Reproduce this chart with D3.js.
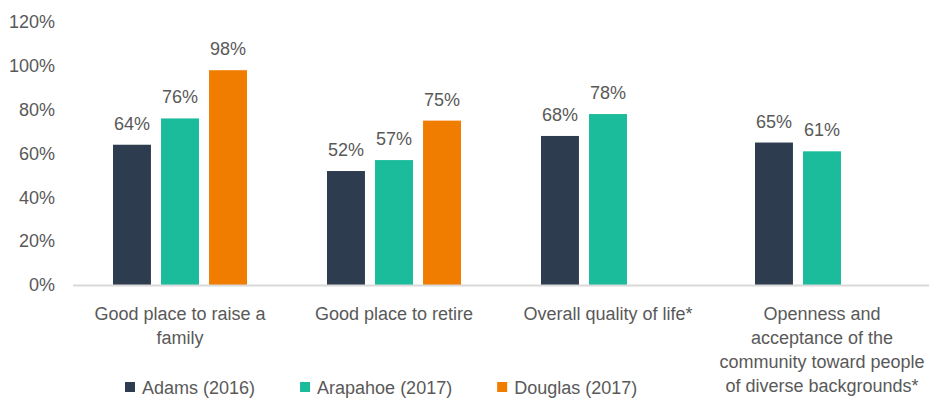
<!DOCTYPE html>
<html>
<head>
<meta charset="utf-8">
<script src="https://cdn.jsdelivr.net/npm/d3@7"></script>
<style>
  body { margin: 0; background: #fff; }
  svg text { fill: #595959; font-family: "Liberation Sans", Arial, sans-serif; }
</style>
</head>
<body>
<div id="chart"></div>
<script>
// --- data ---
const categories = [
  ["Good place to raise a", "family"],
  ["Good place to retire"],
  ["Overall quality of life*"],
  ["Openness and", "acceptance of the", "community toward people", "of diverse backgrounds*"]
];
const seriesNames = ["Adams (2016)", "Arapahoe (2017)", "Douglas (2017)"];
const seriesColors = ["#2e3c50", "#1abc9c", "#f07c00"];
const adams = [0.64, 0.52, 0.68, 0.65];
const arapahoe = [0.76, 0.57, 0.78, 0.61];
const douglas = [0.98, 0.75, null, null];
const yTicks = [0, 0.2, 0.4, 0.6, 0.8, 1.0, 1.2];

const width = 946, height = 400;
const plotLeft = 73, plotRight = 929, plotTop = 22, plotBottom = 285;

const svg = d3.select("#chart").append("svg").attr("width", width).attr("height", height);

const seriesValues = [adams, arapahoe, douglas];
const x0 = d3.scaleBand().domain(d3.range(categories.length)).range([plotLeft, plotRight]);
const x1 = d3.scaleBand().domain(d3.range(seriesNames.length)).range([40, x0.bandwidth() - 40]).paddingInner(0.21);
const y = d3.scaleLinear().domain([0, 1.2]).range([plotBottom, plotTop]);
const pct = d3.format(".0%");

// y tick labels (no axis line)
svg.append("g").selectAll("text").data(yTicks).join("text")
  .attr("x", 55).attr("y", d => y(d)).attr("dy", "0.35em")
  .attr("text-anchor", "end")
  .style("font-size", "18px")
  .text(d => pct(d));

// bars
const flat = [];
categories.forEach((c, i) => seriesValues.forEach((vals, s) => {
  if (vals[i] != null) flat.push({ cat: i, s: s, v: vals[i] });
}));

const groups = svg.append("g");
groups.selectAll("rect").data(flat).join("rect")
  .attr("x", d => x0(d.cat) + x1(d.s))
  .attr("y", d => y(d.v))
  .attr("width", x1.bandwidth())
  .attr("height", d => plotBottom - y(d.v))
  .attr("fill", d => seriesColors[d.s]);

groups.selectAll("text").data(flat).join("text")
  .attr("x", d => x0(d.cat) + x1(d.s) + x1.bandwidth() / 2)
  .attr("y", d => y(d.v) - 15)
  .attr("text-anchor", "middle")
  .style("font-size", "18px")
  .text(d => pct(d.v));

// baseline
svg.append("line")
  .attr("x1", plotLeft).attr("x2", plotRight)
  .attr("y1", plotBottom + 0.5).attr("y2", plotBottom + 0.5)
  .attr("stroke", "#d9d9d9").attr("stroke-width", 2);

// category labels
const catG = svg.append("g").selectAll("text").data(categories).join("text")
  .attr("text-anchor", "middle")
  .style("font-size", "18px");
catG.each(function(lines, i) {
  d3.select(this).selectAll("tspan").data(lines).join("tspan")
    .attr("x", x0(i) + x0.bandwidth() / 2)
    .attr("y", (d, k) => 320 + k * 24)
    .text(d => d);
});

// legend
const legend = svg.append("g");
let lx = 125;
seriesNames.forEach((name, i) => {
  legend.append("rect").attr("x", lx).attr("y", 382).attr("width", 10).attr("height", 10).attr("fill", seriesColors[i]);
  const t = legend.append("text")
    .attr("x", lx + 17).attr("y", 394)
    .style("font-size", "18px")
    .text(name);
  lx += 17 + t.node().getComputedTextLength() + 45;
});
</script>
</body>
</html>
